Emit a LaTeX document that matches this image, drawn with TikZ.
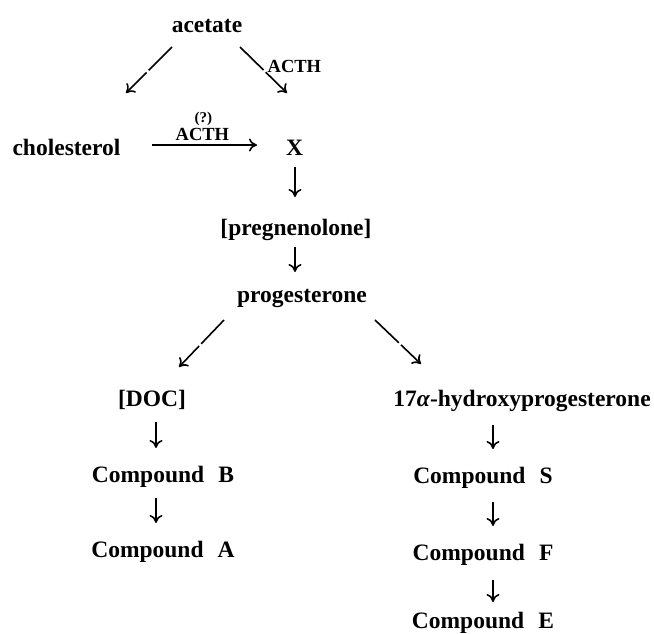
\documentclass[tikz,border=0pt]{standalone}
\usepackage{fontspec}
\setmainfont{Liberation Serif}
\usetikzlibrary{arrows.meta}

\begin{document}
\begin{tikzpicture}[x = 1pt, y = -1pt,
                    compound/.style = {anchor = base, inner sep = 0pt,
                                       font = \fontsize{23.5}{28}\selectfont\bfseries},
                    hormone/.style = {inner sep = 1pt, font = \fontsize{18.5}{22}\selectfont\bfseries},
                    react/.style = {line width = 1.6pt, -{To[length = 8pt, width = 13pt]}},
                    split/.style = {react, dash pattern = on 33pt off 3pt on 100pt}]
    \useasboundingbox (0,0) rectangle (654,633);
    %compounds
    \node[compound] (acetate) at (207,32) {acetate};
    \node[compound] (chol) at (66.5,155) {cholesterol};
    \node[compound] (X) at (294.5,155) {X};
    \node[compound] (preg) at (296,235) {[pregnenolone]};
    \node[compound] (prog) at (302,302) {progesterone};
    \node[compound] (DOC) at (152,406) {[DOC]};
    \node[compound] (hydroxy) at (522,406) {17\textit{α}-hydroxyprogesterone};
    \node[compound] (cpdB) at (163,482) {Compound\hspace{.6em}B};
    \node[compound] (cpdA) at (163,557) {Compound\hspace{.6em}A};
    \node[compound] (cpdS) at (483,483) {Compound\hspace{.6em}S};
    \node[compound] (cpdF) at (483,560) {Compound\hspace{.6em}F};
    \node[compound] (cpdE) at (483,628) {Compound\hspace{.6em}E};
    %acetate branches
    \draw[split] ([shift={(-35,15)}]acetate.base) -- ([shift={(59.5,-62)}]chol.base);
    \draw[split] ([shift={(33,15)}]acetate.base) -- ([shift={(-7.5,-62)}]X.base)
        node[hormone, pos = 0.55, anchor = base west] (acthA) {ACTH};
    \draw[react] ([shift={(85.5,-10)}]chol.base) -- ([shift={(-37.5,-10)}]X.base)
        node[hormone, pos = 0.48, anchor = base, yshift = 5pt] (acthB) {ACTH};
    \node[hormone, anchor = base, font = \fontsize{15}{18}\selectfont\bfseries] (query)
        at ([shift={(1,-18)}]acthB.base) {(?)};
    %main chain
    \draw[react] ([shift={(0.5,12)}]X.base) -- ([shift={(-1,-38)}]preg.base);
    \draw[react] ([shift={(-1,12)}]preg.base) -- ([shift={(-7,-30)}]prog.base);
    \draw[split] ([shift={(-78,18)}]prog.base) -- ([shift={(27,-39)}]DOC.base);
    \draw[split] ([shift={(73,18)}]prog.base) -- ([shift={(-101,-42)}]hydroxy.base);
    %left column
    \draw[react] ([shift={(4,16)}]DOC.base) -- ([shift={(-7,-34)}]cpdB.base);
    \draw[react] ([shift={(-7,16)}]cpdB.base) -- ([shift={(-7,-34)}]cpdA.base);
    %right column
    \draw[react] ([shift={(-29,19)}]hydroxy.base) -- ([shift={(10,-34)}]cpdS.base);
    \draw[react] ([shift={(10,19)}]cpdS.base) -- ([shift={(10,-34)}]cpdF.base);
    \draw[react] ([shift={(10,20)}]cpdF.base) -- ([shift={(10,-26)}]cpdE.base);
\end{tikzpicture}
\end{document}
